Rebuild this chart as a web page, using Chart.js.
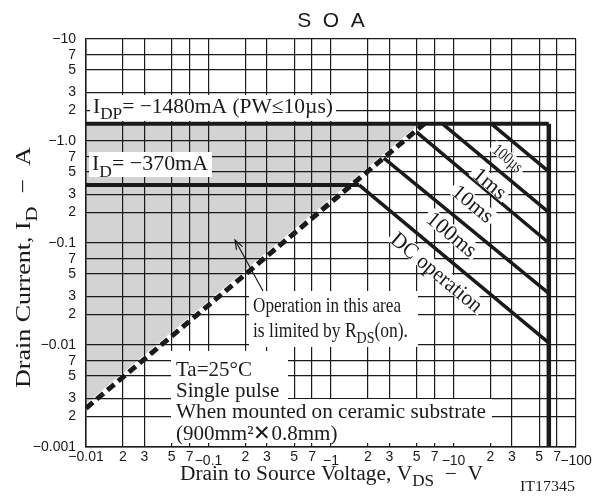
<!DOCTYPE html>
<html>
<head>
<meta charset="utf-8">
<script src="https://cdn.jsdelivr.net/npm/chart.js@4.4.1/dist/chart.umd.min.js"></script>
<style>
  html, body { margin: 0; padding: 0; background: #fff; }
</style>
</head>
<body>
<canvas id="soa" width="606" height="501"></canvas>
<script>
// axis ticks (|VDS| in V, |ID| in A)
const xTicks = [0.01, 0.02, 0.03, 0.05, 0.07, 0.1, 0.2, 0.3, 0.5, 0.7, 1, 2, 3, 5, 7, 10, 20, 30, 50, 70, 100];
const xTickLabels = ['−0.01', '2', '3', '5', '7', '−0.1', '2', '3', '5', '7', '−1', '2', '3', '5', '7', '−10', '2', '3', '5', '7', '−100'];
const yTicks = [0.001, 0.002, 0.003, 0.005, 0.007, 0.01, 0.02, 0.03, 0.05, 0.07, 0.1, 0.2, 0.3, 0.5, 0.7, 1, 2, 3, 5, 7, 10];
const yTickLabels = ['−0.001', '2', '3', '5', '7', '−0.01', '2', '3', '5', '7', '−0.1', '2', '3', '5', '7', '−1.0', '2', '3', '5', '7', '−10'];

// limits
const rdsV = [0.01, 5.8];
const rdsI = [0.0024, 1.48];
const idpV = [0.01, 60];
const idpI = [1.48, 1.48];
const vdssV = [60, 60];
const vdssI = [1.48, 0.001];
const idV = [0.01, 1.7];
const idI = [0.37, 0.37];

// pulse width lines
const pw100usV = [20.3, 60];
const pw100usI = [1.48, 0.5];
const pw1msV = [8.1, 60];
const pw1msI = [1.48, 0.2];
const pw10msV = [5.0, 60];
const pw10msI = [1.22, 0.1];
const pw100msV = [2.7, 60];
const pw100msI = [0.68, 0.032];
const dcV = [1.7, 60];
const dcI = [0.37, 0.0105];

const INK = '#1a1a1a';
const GRAY = '#d3d3d4';
const SANS = "'Liberation Sans', Arial, sans-serif";
const SERIF = "'Liberation Serif', 'Times New Roman', 'DejaVu Serif', serif";
const SUB = 0.8;

const pts = (xs, ys) => xs.map((x, i) => ({ x: x, y: ys[i] }));

function line(xs, ys, width, dash, color) {
  return {
    data: pts(xs, ys),
    showLine: true,
    borderColor: color || INK,
    borderWidth: width,
    borderDash: dash || [],
    borderCapStyle: 'butt',
    pointRadius: 0,
    fill: false
  };
}

// ---------- text helpers ----------
function setFont(ctx, size) { ctx.font = size + 'px ' + SERIF; }

function partSize(p, size) { return p.sub ? size * SUB : size; }

function partsWidth(ctx, parts, size) {
  let w = 0;
  parts.forEach(p => { setFont(ctx, partSize(p, size)); w += ctx.measureText(p.t).width; });
  return w;
}

function drawParts(ctx, parts, size, sx) {
  let cx = 0;
  ctx.save();
  ctx.scale(sx, 1);
  ctx.textAlign = 'left';
  ctx.textBaseline = 'alphabetic';
  ctx.fillStyle = INK;
  parts.forEach(p => {
    setFont(ctx, partSize(p, size));
    ctx.fillText(p.t, cx, p.sub ? size * 0.3 : 0);
    cx += ctx.measureText(p.t).width;
  });
  ctx.restore();
}

function fitScale(ctx, n) {
  return n.width ? n.width / partsWidth(ctx, n.parts, n.size) : 1;
}

// white boxes behind the notes, [x1, y1, x2, y2]
const noteBoxes = [
  [90, 95, 336, 121],
  [89, 152, 212, 177],
  [249, 291, 418, 347],
  [171, 351, 288, 399],
  [171, 399, 492, 443]
];

const notes = [
  { parts: [{ t: 'I' }, { t: 'DP', sub: 1 }, { t: '= −1480mA (PW≤10µs)' }], x: 93, y: 113, size: 21.5, width: 240 },
  { parts: [{ t: 'I' }, { t: 'D', sub: 1 }, { t: '= −370mA' }], x: 92, y: 170, size: 22, width: 116 },
  { parts: [{ t: 'Operation in this area' }], x: 253, y: 312, size: 21, width: 148 },
  { parts: [{ t: 'is limited by R' }, { t: 'DS', sub: 1 }, { t: '(on).' }], x: 253, y: 336.5, size: 21, width: 155 },
  { parts: [{ t: 'Ta=25°C' }], x: 176, y: 376, size: 21 },
  { parts: [{ t: 'Single pulse' }], x: 176, y: 396.5, size: 21 },
  { parts: [{ t: 'When mounted on ceramic substrate' }], x: 176, y: 418, size: 21, width: 310 },
  { parts: [{ t: '(900mm²✕0.8mm)' }], x: 176, y: 440, size: 21 },
  { parts: [{ t: 'Drain to Source Voltage, V' }, { t: 'DS', sub: 1 }, { t: '  −  V' }], x: 180, y: 480, size: 20, width: 303 },
  { parts: [{ t: 'IT17345' }], x: 520, y: 491, size: 15, width: 55 }
];

// labels along the pulse lines (centre points)
const lineLabels = [
  { parts: [{ t: '100µs' }], cx: 508, cy: 158, size: 17, width: 34 },
  { parts: [{ t: '1ms' }], cx: 490, cy: 183, size: 21, width: 37 },
  { parts: [{ t: '10ms' }], cx: 473, cy: 203.5, size: 21, width: 47 },
  { parts: [{ t: '100ms' }], cx: 452, cy: 234, size: 22, width: 58 },
  { parts: [{ t: 'DC operation' }], cx: 437, cy: 272, size: 22, width: 112 }
];

const yTitle = { parts: [{ t: 'Drain Current, I' }, { t: 'D', sub: 1 }, { t: '  −  A' }], size: 22, width: 241 };

const notesPlugin = {
  id: 'notes',
  afterDraw(chart) {
    const ctx = chart.ctx;
    const xs = chart.scales.x, ys = chart.scales.y;
    ctx.save();

    ctx.fillStyle = '#fff';
    noteBoxes.forEach(b => ctx.fillRect(b[0], b[1], b[2] - b[0], b[3] - b[1]));

    notes.forEach(n => {
      const sx = fitScale(ctx, n);
      ctx.save();
      ctx.translate(n.x, n.y);
      drawParts(ctx, n.parts, n.size, sx);
      ctx.restore();
    });

    // slope of a constant power line on these axes
    const ang = Math.atan2(ys.getPixelForValue(0.1) - ys.getPixelForValue(1),
                           xs.getPixelForValue(10) - xs.getPixelForValue(1));
    lineLabels.forEach(n => {
      const sx = fitScale(ctx, n);
      const w = partsWidth(ctx, n.parts, n.size) * sx;
      ctx.save();
      ctx.translate(n.cx, n.cy);
      ctx.rotate(ang);
      ctx.fillStyle = '#fff';
      ctx.fillRect(-w / 2 - 3, -n.size * 0.38, w + 6, n.size * 0.74);
      ctx.translate(-w / 2, n.size * 0.33);
      drawParts(ctx, n.parts, n.size, sx);
      ctx.restore();
    });

    // arrow into the RDS(on) limited area
    ctx.strokeStyle = INK;
    ctx.lineWidth = 1.2;
    ctx.beginPath();
    ctx.moveTo(263, 291);
    ctx.lineTo(235, 240);
    const a = Math.atan2(240 - 291, 235 - 263);
    ctx.moveTo(235 - 10 * Math.cos(a - 0.35), 240 - 10 * Math.sin(a - 0.35));
    ctx.lineTo(235, 240);
    ctx.lineTo(235 - 10 * Math.cos(a + 0.35), 240 - 10 * Math.sin(a + 0.35));
    ctx.stroke();

    // y axis title
    const sy = fitScale(ctx, yTitle);
    ctx.save();
    ctx.translate(30, 388);
    ctx.rotate(-Math.PI / 2);
    drawParts(ctx, yTitle.parts, yTitle.size, sy);
    ctx.restore();

    ctx.restore();
  }
};

const gridOpts = { color: INK, lineWidth: 1.2, drawTicks: false, z: 1 };
const borderOpts = { color: INK, width: 1.5, z: 1 };

new Chart(document.getElementById('soa'), {
  type: 'scatter',
  data: {
    datasets: [
      line(rdsV, rdsI, 5, [9, 5]),
      line(idpV, idpI, 4),
      line(vdssV, vdssI, 4.5),
      line(idV, idI, 4),
      line(pw100usV, pw100usI, 3.5),
      line(pw1msV, pw1msI, 3.5),
      line(pw10msV, pw10msI, 3.5),
      line(pw100msV, pw100msI, 3.5),
      line(dcV, dcI, 3.5),
      // white underlay so the dash gaps read white over the grey
      line(rdsV, rdsI, 6.5, [], '#fff'),
      // shaded RDS(on) limited area, drawn first (last dataset is painted first)
      {
        data: pts(rdsV, rdsI),
        showLine: true,
        borderWidth: 0,
        borderColor: 'rgba(0,0,0,0)',
        backgroundColor: GRAY,
        pointRadius: 0,
        fill: { value: idpI[0] }
      }
    ]
  },
  options: {
    responsive: false,
    animation: false,
    layout: { padding: { left: 0, right: 30, top: 0, bottom: 0 } },
    plugins: {
      legend: { display: false },
      tooltip: { enabled: false },
      title: {
        display: true,
        text: 'S  O  A',
        fullSize: false,
        color: INK,
        font: { family: SANS, size: 21, weight: 'normal', lineHeight: 1.2 },
        padding: { top: 9, bottom: 4.8 }
      }
    },
    scales: {
      x: {
        type: 'logarithmic',
        min: 0.01,
        max: 100,
        afterBuildTicks: s => { s.ticks = xTicks.map(v => ({ value: v })); },
        afterFit: s => { s.height = 54; },
        grid: gridOpts,
        border: borderOpts,
        ticks: {
          autoSkip: false,
          maxRotation: 0,
          minRotation: 0,
          padding: 2,
          color: INK,
          font: c => ({
            family: SANS,
            size: 14,
            lineHeight: (c.index > 0 && c.index % 5 === 0) ? 1.75 : 1.2
          }),
          callback: (v, i) => xTickLabels[i]
        }
      },
      y: {
        type: 'logarithmic',
        min: 0.001,
        max: 10,
        afterBuildTicks: s => { s.ticks = yTicks.map(v => ({ value: v })); },
        afterFit: s => { s.width = 86; },
        grid: gridOpts,
        border: borderOpts,
        ticks: {
          autoSkip: false,
          padding: 10,
          color: INK,
          font: { family: SANS, size: 14 },
          callback: (v, i) => yTickLabels[i]
        }
      }
    }
  },
  plugins: [notesPlugin]
});
</script>
</body>
</html>
